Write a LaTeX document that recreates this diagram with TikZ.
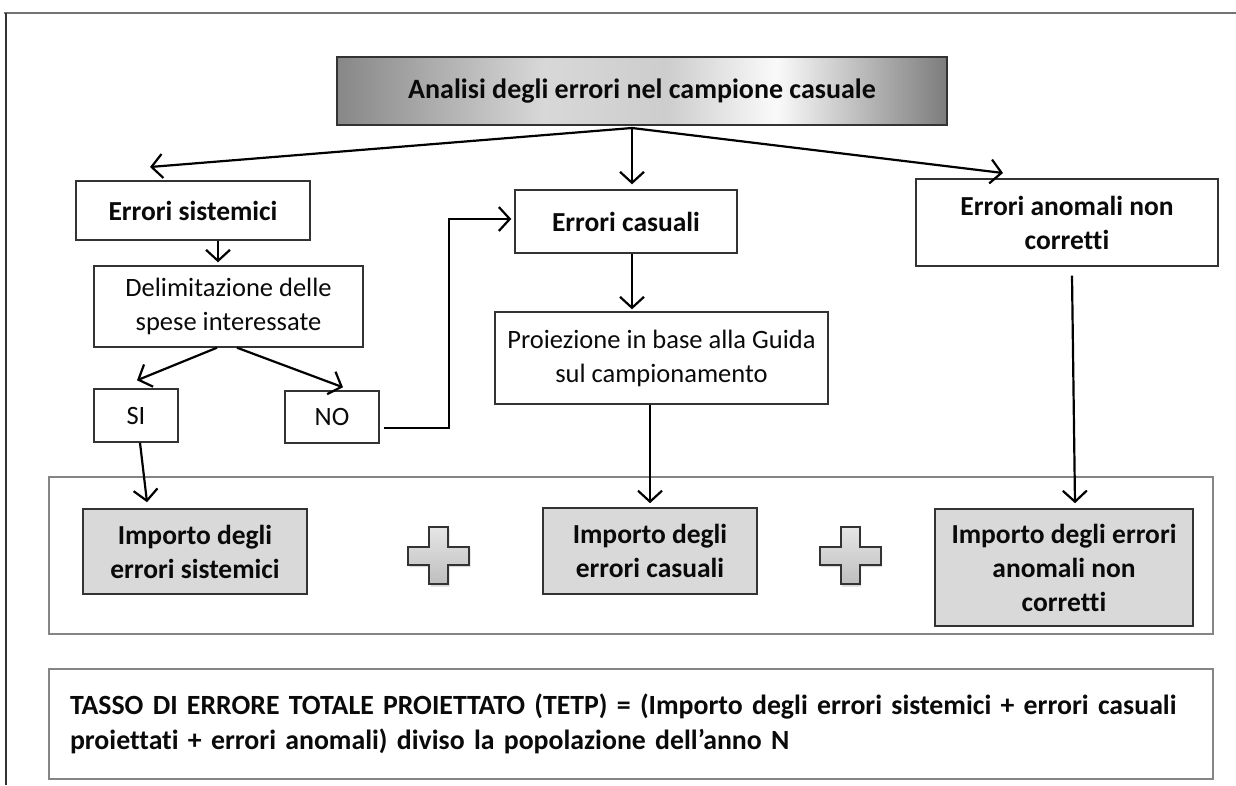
\documentclass[tikz,border=0pt]{standalone}
\usepackage{fontspec}
\setmainfont{Carlito}[Ligatures=NoCommon]
\usetikzlibrary{arrows.meta,shadows}

\definecolor{boxline}{HTML}{333333}
\definecolor{frameline}{HTML}{858585}
\definecolor{importofill}{HTML}{D9D9D9}
\definecolor{inktext}{HTML}{0A0A0A}
\definecolor{shadeA}{HTML}{878787}
\definecolor{shadeB}{HTML}{D8D8D8}
\definecolor{shadeC}{HTML}{CDCDCD}
\definecolor{shadeD}{HTML}{FAFAFA}
\definecolor{shadeE}{HTML}{7C7C7C}
\definecolor{plustop}{HTML}{E6E6E6}
\definecolor{plusbottom}{HTML}{BEBEBE}
\pgfdeclarehorizontalshading{titleshade}{100bp}{color(0bp)=(shadeA); color(25bp)=(shadeA); color(42bp)=(shadeB); color(52bp)=(shadeC); color(61bp)=(shadeD); color(75bp)=(shadeE); color(100bp)=(shadeE)}

\tikzset{
  every node/.style={font=\fontsize{26.5}{34}\selectfont, text=inktext},
  box/.style={draw=boxline, line width=1.4pt, fill=white, align=center, inner sep=0pt},
  boldbox/.style={box, font=\fontsize{27.5}{34}\selectfont\bfseries},
  importo/.style={boldbox, fill=importofill, line width=1.6pt},
  frame/.style={draw=frameline, line width=1.5pt, inner sep=0pt},
  arr/.style={-{Straight Barb[length=11pt,width=24pt]}, line width=2.2pt, black},
  plussign/.pic={
    \draw[draw=boxline, line width=2pt, top color=plustop, bottom color=plusbottom,
      drop shadow={shadow xshift=1.5pt, shadow yshift=-2.5pt, opacity=0.3}]
      (-9.5,-28.5) -- (9.5,-28.5) -- (9.5,-9) -- (30.5,-9) -- (30.5,9) -- (9.5,9)
      -- (9.5,28.5) -- (-9.5,28.5) -- (-9.5,9) -- (-30.5,9) -- (-30.5,-9) -- (-9.5,-9) -- cycle;
  }
}

\begin{document}
\begin{tikzpicture}[x=1pt, y=-1pt]
    \useasboundingbox (0,0) rectangle (1236,785);

    % page border
    \draw[black!55, line width=2pt] (4,13) -- (1236,13);
    \draw[black!80, line width=1.5pt] (6,13) -- (6,785);

    % heading
    \node[box, shading=titleshade, line width=1.5pt, minimum width=610pt, minimum height=68pt,
      font=\fontsize{28}{34}\selectfont\bfseries] (title) at (642,91) {Analisi degli errori nel campione casuale};

    % the three kinds of error
    \node[boldbox, minimum width=234pt, minimum height=59pt] (sist) at (193,210.5) {Errori sistemici};
    \node[box, minimum width=269pt, minimum height=81pt] (delim) at (228.5,306.5) {Delimitazione delle\\spese interessate};
    \node[box, minimum width=84pt, minimum height=53pt] (si) at (136,415.5) {SI};
    \node[box, minimum width=94pt, minimum height=52pt] (no) at (332,417) {NO};
    \node[boldbox, minimum width=222pt, minimum height=63pt] (cas) at (626,221.5) {Errori casuali};
    \node[box, minimum width=333pt, minimum height=92pt] (proi) at (661.5,358) {Proiezione in base alla Guida\\sul campionamento};
    \node[boldbox, minimum width=302pt, minimum height=87pt] (anom) at (1067,222.5) {Errori anomali non\\corretti};

    % amounts
    \node[frame, minimum width=1164pt, minimum height=157pt] (somma) at (631,555.5) {};
    \node[importo, minimum width=224pt, minimum height=85pt] (isist) at (195,551.5) {Importo degli\\errori sistemici};
    \node[importo, minimum width=214pt, minimum height=86pt] (icas) at (650,551) {Importo degli\\errori casuali};
    \node[importo, minimum width=258pt, minimum height=117pt] (ianom) at (1064,567.5) {Importo degli errori\\anomali non\\corretti};
    \pic at (438.5,555.5) {plussign};
    \pic at (850,555.5) {plussign};

    % formula
    \node[frame, minimum width=1164pt, minimum height=110pt, text width=1122pt, align=left,
      font=\fontsize{27.8}{35}\selectfont\bfseries] (tetp) at (631,724)
      {TASSO DI ERRORE TOTALE PROIETTATO (TETP) = (Importo degli errori sistemici + errori casuali\\proiettati + errori anomali) diviso la popolazione dell’anno N};

    % connectors
    \coordinate (split) at (632,128);
    \coordinate (sistin) at (150,167);
    \coordinate (anomin) at (1003,173);
    \draw[arr] (split) -- (sistin);
    \draw[arr] (split) -- ([xshift=6pt,yshift=5pt]cas.north);
    \draw[arr] (split) -- (anomin);
    \draw[arr] ([xshift=25pt]sist.south) -- ([xshift=-10.5pt,yshift=3pt]delim.north);
    \draw[arr] ([xshift=-11.5pt]delim.south) -- ([xshift=1pt,yshift=8pt]si.north);
    \draw[arr] ([xshift=8.5pt]delim.south) -- ([xshift=11pt,yshift=3pt]no.north);
    \draw[arr] ([xshift=4pt,yshift=-11pt]no.east) -- ++(65,0) |- ([xshift=-3pt,yshift=2.5pt]cas.west);
    \draw[arr] ([xshift=6pt]cas.south) -- ([xshift=-29.5pt,yshift=2pt]proi.north);
    \draw[arr] (proi.south -| icas.north) -- ([yshift=4pt]icas.north);
    \draw[arr] ([xshift=5pt,yshift=-9pt]anom.south) -- ([xshift=11pt,yshift=5pt]ianom.north);
    \draw[arr] ([xshift=4pt]si.south) -- ([xshift=-48pt,yshift=6pt]isist.north);
\end{tikzpicture}
\end{document}
